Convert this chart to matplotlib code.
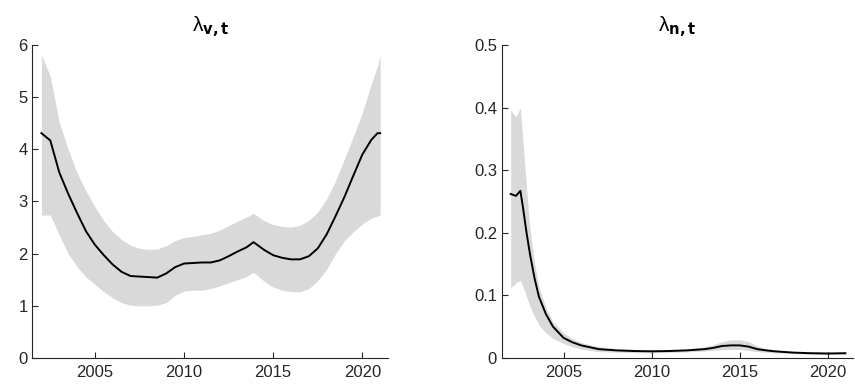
import matplotlib
matplotlib.use("Agg")
import matplotlib.pyplot as plt

# lambda_v,t : median and band
years_v = [2002.0, 2002.5, 2003.0, 2003.5, 2004.0, 2004.5, 2005.0, 2005.5, 2006.0, 2006.5,
           2007.0, 2007.5, 2008.0, 2008.5, 2009.0, 2009.5, 2010.0, 2010.5, 2011.0, 2011.5,
           2012.0, 2012.5, 2013.0, 2013.5, 2013.9, 2014.5, 2015.0, 2015.5, 2016.0, 2016.5,
           2017.0, 2017.5, 2018.0, 2018.5, 2019.0, 2019.5, 2020.0, 2020.5, 2020.85, 2021.0]
med_v = [4.31, 4.17, 3.56, 3.15, 2.78, 2.43, 2.17, 1.97, 1.79, 1.65,
         1.57, 1.56, 1.55, 1.54, 1.62, 1.74, 1.81, 1.82, 1.83, 1.83,
         1.87, 1.95, 2.04, 2.12, 2.22, 2.07, 1.97, 1.92, 1.89, 1.89,
         1.95, 2.10, 2.37, 2.72, 3.09, 3.50, 3.90, 4.18, 4.31, 4.31]
up_v = [5.81, 5.40, 4.52, 4.00, 3.55, 3.20, 2.90, 2.63, 2.42, 2.27,
        2.16, 2.10, 2.08, 2.09, 2.15, 2.25, 2.31, 2.33, 2.36, 2.39,
        2.45, 2.54, 2.62, 2.70, 2.77, 2.63, 2.56, 2.52, 2.51, 2.54,
        2.64, 2.80, 3.05, 3.40, 3.82, 4.25, 4.70, 5.25, 5.60, 5.80]
lo_v = [2.74, 2.74, 2.36, 2.00, 1.75, 1.55, 1.41, 1.27, 1.15, 1.06,
        1.01, 1.00, 1.00, 1.01, 1.06, 1.20, 1.28, 1.30, 1.30, 1.33,
        1.38, 1.44, 1.50, 1.56, 1.64, 1.47, 1.36, 1.30, 1.27, 1.27,
        1.33, 1.48, 1.70, 2.00, 2.25, 2.42, 2.57, 2.68, 2.72, 2.74]

# lambda_n,t : median and band
years_n = [2002.0, 2002.3, 2002.55, 2002.7, 2002.9, 2003.1, 2003.35, 2003.6, 2004.0, 2004.4,
           2005.0, 2005.5, 2006.0, 2006.5, 2007.0, 2008.0, 2009.0, 2010.0, 2011.0, 2012.0,
           2013.0, 2013.5, 2014.0, 2014.5, 2015.0, 2015.5, 2016.0, 2016.5, 2017.0, 2018.0,
           2019.0, 2020.0, 2021.0]
med_n = [0.262, 0.259, 0.267, 0.240, 0.200, 0.165, 0.128, 0.098, 0.070, 0.050,
         0.032, 0.025, 0.020, 0.017, 0.014, 0.012, 0.011, 0.0105, 0.011, 0.012,
         0.014, 0.016, 0.019, 0.020, 0.020, 0.018, 0.014, 0.012, 0.0105, 0.0085,
         0.0075, 0.007, 0.0075]
up_n = [0.396, 0.385, 0.400, 0.345, 0.270, 0.205, 0.152, 0.114, 0.080, 0.058,
        0.040, 0.031, 0.025, 0.021, 0.018, 0.015, 0.0135, 0.013, 0.0135, 0.0145,
        0.0175, 0.021, 0.026, 0.029, 0.029, 0.026, 0.019, 0.015, 0.013, 0.0105,
        0.0095, 0.009, 0.009]
lo_n = [0.112, 0.120, 0.124, 0.114, 0.098, 0.082, 0.066, 0.053, 0.040, 0.031,
        0.023, 0.018, 0.014, 0.012, 0.010, 0.009, 0.0085, 0.008, 0.0085, 0.0095,
        0.011, 0.012, 0.013, 0.0135, 0.0135, 0.012, 0.010, 0.009, 0.008, 0.0068,
        0.006, 0.0055, 0.006]

xticks = [2005, 2010, 2015, 2020]

plt.rcParams['font.family'] = ['Liberation Sans', 'DejaVu Sans']

fig = plt.figure(figsize=(8.55, 3.92), dpi=100)
ax1 = fig.add_axes([0.038, 0.087, 0.416, 0.798])
ax2 = fig.add_axes([0.587, 0.087, 0.411, 0.798])

panels = [
    (ax1, years_v, med_v, lo_v, up_v, r'λ$_{\mathbf{v,t}}$', (0, 6), [0, 1, 2, 3, 4, 5, 6], ['0', '1', '2', '3', '4', '5', '6']),
    (ax2, years_n, med_n, lo_n, up_n, r'λ$_{\mathbf{n,t}}$', (0, 0.5), [0, 0.1, 0.2, 0.3, 0.4, 0.5], ['0', '0.1', '0.2', '0.3', '0.4', '0.5']),
]

for ax, x, med, lo, up, title, ylim, yt, ytl in panels:
    ax.fill_between(x, lo, up, color='#d9d9d9', linewidth=0)
    ax.plot(x, med, color='black', linewidth=1.4)
    ax.set_xlim(2001.5, 2021.45)
    ax.set_ylim(*ylim)
    ax.set_xticks(xticks)
    ax.set_yticks(yt)
    ax.set_yticklabels(ytl)
    ax.spines['top'].set_visible(False)
    ax.spines['right'].set_visible(False)
    ax.spines['left'].set_color('#262626')
    ax.spines['bottom'].set_color('#262626')
    ax.tick_params(direction='in', length=4, width=0.8, colors='#262626',
                   labelsize=12, labelcolor='#262626')
    ax.tick_params(axis='x', pad=5)
    ax.set_title(title, fontsize=15, pad=10)

fig.savefig('out.png', dpi=100)
